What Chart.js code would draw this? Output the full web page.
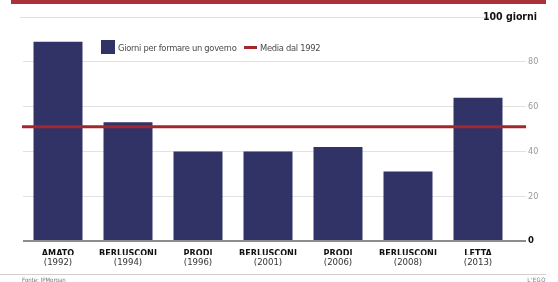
<!DOCTYPE html>
<html>
<head>
<meta charset="utf-8">
<script src="https://cdn.jsdelivr.net/npm/chart.js@4/dist/chart.umd.min.js"></script>
<style>
  html, body { margin: 0; padding: 0; background: #fff; }
  #wrap { position: relative; width: 558px; height: 282px; overflow: hidden; font-family: "Liberation Sans Narrow", "DejaVu Sans Condensed", "Roboto", sans-serif; }
  #wrap canvas { position: absolute; left: 0; top: 0; }
  .topbar { position: absolute; left: 11px; top: 0; width: 535px; height: 4px; background: #a8343a; }
  .footline { position: absolute; left: 0; top: 274px; width: 546px; height: 1px; background: #d0d0d0; }
  .fonte { position: absolute; left: 22px; top: 276px; font-size: 6px; color: #777; }
  .ego { position: absolute; right: 12px; top: 276px; font-size: 6px; color: #777; letter-spacing: 0.5px; }
  .giorni { position: absolute; right: 21px; top: 10px; font-size: 10.5px; font-weight: bold; color: #111; }
  .leg { position: absolute; top: 40px; height: 14px; display: flex; align-items: center; font-size: 9.3px; letter-spacing: -0.3px; color: #4a4a4a; white-space: nowrap; }
  .leg .box { width: 14px; height: 14px; margin-right: 3px; }
  .leg .dash { width: 13px; height: 3px; margin-right: 3px; }
</style>
</head>
<body>
<div id="wrap">
  <canvas id="c" width="558" height="282"></canvas>
  <div class="topbar"></div>
  <div class="giorni">100 giorni</div>
  <div id="legend"></div>
  <div class="footline"></div>
  <div class="fonte">Fonte: JPMorgan</div>
  <div class="ego">L'EGO</div>
</div>
<script>
// ---- data ----
const premiers = ["AMATO", "BERLUSCONI", "PRODI", "BERLUSCONI", "PRODI", "BERLUSCONI", "LETTA"];
const years = ["1992", "1994", "1996", "2001", "2006", "2008", "2013"];
const giorniPerFormare = [89, 53, 40, 40, 42, 31, 64];
const mediaDal1992 = [51];
const yMax = 100;
const yStep = 20;
const seriesNames = ["Giorni per formare un governo", "Media dal 1992"];
const barColor = "#313265";
const mediaColor = "#a3272d";

// ---- legend (HTML) ----
const legendEl = document.getElementById('legend');
legendEl.innerHTML =
  '<div class="leg" style="left:101px"><span class="box" style="background:' + barColor + '"></span>' + seriesNames[0] + '</div>' +
  '<div class="leg" style="left:244px"><span class="dash" style="background:' + mediaColor + '"></span>' + seriesNames[1] + '</div>';

const FONT = '"Liberation Sans Narrow", "DejaVu Sans Condensed", Roboto, sans-serif';
const tv = c => (c && c.tick) ? c.tick.value : null;

const extrasPlugin = {
  id: 'extras',
  afterDatasetsDraw(chart) {
    const {ctx, chartArea, scales} = chart;
    const y = scales.y;
    const y100 = Math.round(y.getPixelForValue(yMax)) + 0.5;
    ctx.save();
    ctx.strokeStyle = '#e2e2e2';
    ctx.lineWidth = 1;
    ctx.beginPath();
    ctx.moveTo(chartArea.left - 3, y100);
    ctx.lineTo(492, y100);
    ctx.stroke();
    ctx.restore();
  },
  afterDraw(chart) {
    const {ctx, chartArea, scales} = chart;
    const y = scales.y;
    const ym = y.getPixelForValue(mediaDal1992[0]);
    ctx.save();
    ctx.strokeStyle = mediaColor;
    ctx.lineWidth = 3;
    ctx.beginPath();
    ctx.moveTo(chartArea.left - 1, ym);
    ctx.lineTo(chartArea.right + 13, ym);
    ctx.stroke();
    ctx.restore();
  }
};

new Chart(document.getElementById('c'), {
  type: 'bar',
  data: {
    labels: years,
    datasets: [{
      label: seriesNames[0],
      data: giorniPerFormare,
      backgroundColor: barColor,
      borderWidth: 0,
      barPercentage: 0.7,
      categoryPercentage: 1.0,
      xAxisID: 'x',
      yAxisID: 'y'
    }]
  },
  options: {
    responsive: false,
    animation: false,
    events: [],
    layout: { padding: { left: 23, top: 17, right: 0, bottom: 15 } },
    plugins: { legend: { display: false }, tooltip: { enabled: false } },
    scales: {
      x: {
        position: 'bottom',
        offset: true,
        grid: { display: false, drawTicks: false },
        border: { display: false },
        ticks: {
          padding: 7,
          color: '#111',
          font: { family: FONT, size: 9, weight: 'bold' },
          maxRotation: 0, autoSkip: false,
          callback: (v, i) => premiers[i]
        },
        afterFit: s => { s.height = 14; }
      },
      x2: {
        position: 'bottom',
        offset: true,
        grid: { display: false, drawTicks: false },
        border: { display: false },
        ticks: {
          padding: 2,
          color: '#333',
          font: { family: FONT, size: 9.5 },
          maxRotation: 0, autoSkip: false,
          callback: (v, i) => '(' + years[i] + ')'
        },
        afterFit: s => { s.height = 12; }
      },
      y: {
        position: 'right',
        min: 0, max: yMax,
        z: 1,
        border: { display: false },
        grid: {
          drawTicks: true,
          tickLength: 13,
          color: c => tv(c) === 0 ? '#8c8c8c' : (tv(c) === yMax ? 'rgba(0,0,0,0)' : 'rgba(195,195,205,0.5)'),
          lineWidth: c => tv(c) === 0 ? 2 : 1
        },
        ticks: {
          stepSize: yStep,
          padding: 2,
          color: c => tv(c) === 0 ? '#111' : '#9a9a9a',
          font: c => tv(c) === 0 ? { family: FONT, size: 9.5, weight: 'bold' } : { family: FONT, size: 9 },
          callback: v => v === yMax ? '' : String(v)
        },
        afterFit: s => { s.width = 45; }
      }
    }
  },
  plugins: [extrasPlugin]
});
</script>
</body>
</html>
